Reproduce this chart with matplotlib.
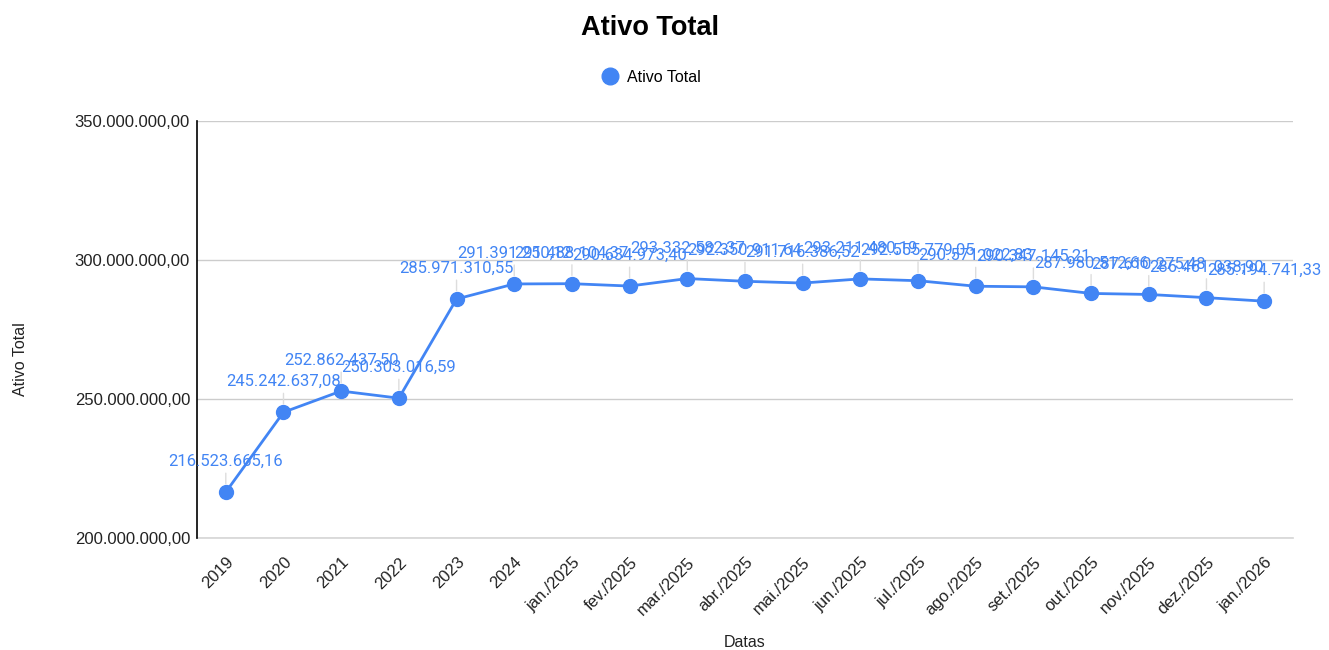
import matplotlib
matplotlib.use("Agg")
import matplotlib.pyplot as plt
from matplotlib.ticker import FuncFormatter

# dados
datas = ['2019', '2020', '2021', '2022', '2023', '2024',
         'jan./2025', 'fev./2025', 'mar./2025', 'abr./2025', 'mai./2025',
         'jun./2025', 'jul./2025', 'ago./2025', 'set./2025', 'out./2025',
         'nov./2025', 'dez./2025', 'jan./2026']
ativo_total = [216523665.16, 245242637.08, 252862437.50, 250303016.59,
               285971310.55, 291391250.12, 291488104.37, 290634973.40,
               293332582.37, 292350911.64, 291716386.52, 293211480.19,
               292555779.05, 290571022.83, 290347145.21, 287980512.66,
               287610275.48, 286461038.90, 285194741.33]
y_ticks = [200e6, 250e6, 300e6, 350e6]

azul = '#4285F4'


def br(v, pos=None):
    s = '{:,.2f}'.format(v)
    return s.replace(',', 'X').replace('.', ',').replace('X', '.')


plt.rcParams['font.family'] = ['Liberation Sans', 'DejaVu Sans']

fig = plt.figure(figsize=(13.29, 6.5), dpi=100)
ax = fig.add_axes([0.1482, 0.1723, 0.8247, 0.6415])

x = list(range(len(datas)))
ax.plot(x, ativo_total, color=azul, lw=2, marker='o', markersize=10,
        label='Ativo Total', zorder=3)

for xi, v in zip(x, ativo_total):
    ax.annotate(br(v), (xi, v), xytext=(0, 22), textcoords='offset points',
                ha='center', va='center', fontsize=12, color=azul,
                family=['Roboto', 'DejaVu Sans'],
                arrowprops=dict(arrowstyle='-', color='#dddddd', lw=1,
                                shrinkA=1, shrinkB=6), zorder=4)

ax.set_xlim(-0.5, len(datas) - 0.5)
ax.set_ylim(200e6, 350e6)
ax.set_yticks(y_ticks)
ax.yaxis.set_major_formatter(FuncFormatter(br))
ax.set_xticks(x)
ax.set_xticklabels(datas, rotation=45, ha='right', rotation_mode='anchor')
ax.tick_params(axis='both', length=0, labelsize=12, colors='#222222')
ax.tick_params(axis='x', pad=12)
ax.tick_params(axis='y', pad=5)

ax.grid(axis='y', color='#cccccc', lw=1)
ax.axhline(200e6, color='#d5d5d5', lw=1.2, clip_on=False, zorder=1)
ax.set_axisbelow(True)
for s in ['top', 'right', 'bottom']:
    ax.spines[s].set_visible(False)
ax.spines['left'].set_color('black')
ax.spines['left'].set_linewidth(1.2)
ax.spines['left'].set_zorder(2)

ax.set_xlabel('Datas', fontsize=11.5, color='#222222', labelpad=12)
ax.set_ylabel('Ativo Total', fontsize=11.5, color='#222222')
ax.yaxis.set_label_coords(-0.154, 0.43)

fig.text(0.489, 0.957, 'Ativo Total', fontsize=19.5, fontweight='bold',
         ha='center', va='center')
leg = fig.legend(loc='center', bbox_to_anchor=(0.49, 0.881), frameon=False,
                 fontsize=11.5, handlelength=1, handletextpad=0.6)
for h in leg.get_lines():
    h.set_linestyle('')
    h.set_markersize(12)

fig.savefig('out.png', dpi=100)
